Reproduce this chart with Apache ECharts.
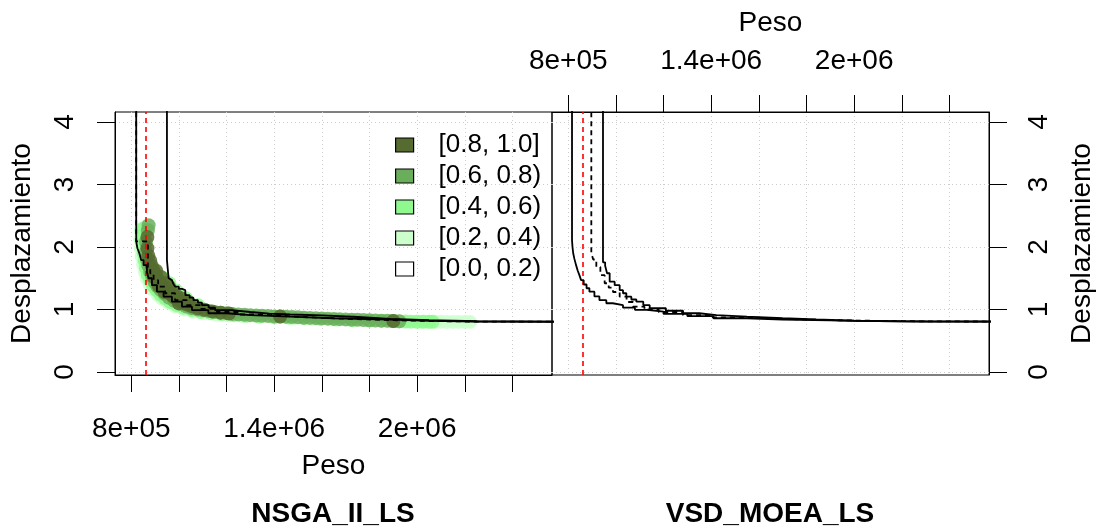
<!DOCTYPE html>
<html>
<head>
<meta charset="utf-8">
<script src="https://cdn.jsdelivr.net/npm/echarts@6/dist/echarts.min.js"></script>
<style>
  html, body { margin: 0; padding: 0; background: #fff; }
  #chart { width: 1102px; height: 531px; }
</style>
</head>
<body>
<div id="chart"></div>
<script>
// axis ticks and labels
const xTicks = [800000, 1000000, 1200000, 1400000, 1600000, 1800000, 2000000, 2200000, 2400000];
const xLabelValues = [800000, 1400000, 2000000];
const xLabelText = { 800000: '8e+05', 1400000: '1.4e+06', 2000000: '2e+06' };
const yTicks = [0, 1, 2, 3, 4];
const panelNames = ['NSGA_II_LS', 'VSD_MOEA_LS'];
const refPeso = 860000;

const levelNames = ['[0.8, 1.0]', '[0.6, 0.8)', '[0.4, 0.6)', '[0.2, 0.4)', '[0.0, 0.2)'];
const levelColors = ['#556b2f', '#6aae5c', '#8ff98f', '#ccffcc', '#ffffff'];

// attainment points, NSGA_II_LS
const pts08 = [[868000, 2.16], [868000, 1.98], [872000, 1.86], [880000, 1.78], [886000, 1.70], [893000, 1.63],
  [900000, 1.57], [908000, 1.51], [917000, 1.45], [927000, 1.40], [938000, 1.35], [950000, 1.30], [963000, 1.25],
  [978000, 1.20], [995000, 1.16], [1013000, 1.12], [1033000, 1.08], [1055000, 1.05], [1080000, 1.02],
  [1108000, 0.995], [1140000, 0.97], [1175000, 0.95], [1210000, 0.935], [895000, 1.52], [905000, 1.62],
  [915000, 1.38], [925000, 1.52], [940000, 1.28], [945000, 1.42], [960000, 1.36], [975000, 1.27],
  [990000, 1.22], [1010000, 1.18], [1000000, 1.10], [1040000, 1.12], [1425000, 0.888], [1900000, 0.816]];
const pts06 = [[873000, 2.35], [870000, 2.27], [862000, 2.08], [862000, 1.92], [866000, 1.80], [872000, 1.70],
  [880000, 1.60], [888000, 1.52], [898000, 1.44], [910000, 1.37], [924000, 1.31], [940000, 1.25], [958000, 1.19],
  [980000, 1.14], [1004000, 1.09], [1030000, 1.05], [1055000, 1.02], [1080000, 1.00], [1100000, 0.99],
  [1125000, 0.975], [1150000, 0.96], [1175000, 0.95], [1200000, 0.94], [1225000, 0.93], [1250000, 0.92],
  [1275000, 0.915], [1300000, 0.91], [1325000, 0.905], [1350000, 0.90], [1375000, 0.895], [1400000, 0.89],
  [1425000, 0.888], [1450000, 0.884], [1475000, 0.88], [1500000, 0.875], [1525000, 0.87], [1550000, 0.866],
  [1575000, 0.862], [1600000, 0.858], [1625000, 0.854], [1650000, 0.85], [1675000, 0.846], [1700000, 0.842],
  [1725000, 0.838], [1750000, 0.835], [1775000, 0.832], [1800000, 0.828], [1825000, 0.825], [1850000, 0.822],
  [1875000, 0.82], [1900000, 0.816], [1925000, 0.812]];
const pts04 = [[852000, 2.30], [848000, 2.18], [848000, 2.05], [852000, 1.90], [856000, 1.78], [862000, 1.66],
  [870000, 1.55], [880000, 1.46], [892000, 1.38], [906000, 1.31], [922000, 1.24], [942000, 1.18], [964000, 1.12],
  [990000, 1.07], [1020000, 1.03], [1054000, 0.99], [1092000, 0.96], [1134000, 0.94], [1180000, 0.925],
  [1230000, 0.91], [1284000, 0.90], [1340000, 0.89], [1400000, 0.88], [1462000, 0.87], [1526000, 0.86],
  [1592000, 0.85], [1660000, 0.84], [1730000, 0.83], [1800000, 0.822], [1850000, 0.818], [1900000, 0.812],
  [1925000, 0.81], [1950000, 0.808], [1975000, 0.806], [2000000, 0.805], [2025000, 0.804], [2050000, 0.803],
  [2065000, 0.803], [935000, 1.50], [960000, 1.42], [990000, 1.30], [1030000, 1.18], [1080000, 1.07]];
const pts02 = [[840000, 2.26], [838000, 2.12], [840000, 1.98], [844000, 1.85], [850000, 1.72], [858000, 1.60],
  [866000, 1.50], [878000, 1.40], [892000, 1.32], [910000, 1.24], [930000, 1.17], [955000, 1.11], [985000, 1.05],
  [1020000, 1.00], [1060000, 0.965], [1105000, 0.94], [1155000, 0.92], [1210000, 0.905], [1270000, 0.893],
  [1335000, 0.88], [1405000, 0.87], [1480000, 0.86], [1560000, 0.85], [1640000, 0.84], [1720000, 0.83],
  [1800000, 0.822], [1880000, 0.815], [1960000, 0.808], [2000000, 0.806], [2025000, 0.805], [2050000, 0.804],
  [2075000, 0.803], [2100000, 0.803], [2125000, 0.802], [2150000, 0.802], [2175000, 0.802], [2200000, 0.802],
  [2222000, 0.802]];
const pts00 = [];

// attainment surfaces (best / median / worst)
const nsgaOuter = [[821000, 4.3], [821000, 2.085], [826000, 1.98], [834000, 1.9], [842000, 1.79], [852000, 1.71],
  [866000, 1.60], [873000, 1.50], [887000, 1.39], [908000, 1.285], [936000, 1.205], [971000, 1.125],
  [1013000, 1.045], [1055000, 0.99], [1124000, 0.94], [1200000, 0.91], [1300000, 0.885], [1467000, 0.86],
  [1650000, 0.84], [1887000, 0.82], [2050000, 0.808], [2250000, 0.803], [2700000, 0.803]];
const nsgaMedian = [[821000, 4.3], [821000, 2.09], [870000, 1.66], [880000, 1.58], [894000, 1.47], [913000, 1.365],
  [942000, 1.26], [984000, 1.15], [1033000, 1.07], [1090000, 1.01], [1160000, 0.96], [1250000, 0.92],
  [1350000, 0.89], [1470000, 0.865], [1600000, 0.845], [1750000, 0.83], [1900000, 0.815], [2050000, 0.806],
  [2250000, 0.804], [2700000, 0.804]];
const nsgaInner = [[950000, 4.3], [950000, 1.79], [957000, 1.50], [964000, 1.47], [971000, 1.445], [978000, 1.40],
  [985000, 1.365], [1000000, 1.33], [1013000, 1.31], [1027000, 1.23], [1045000, 1.19], [1061000, 1.15],
  [1080000, 1.11], [1097000, 1.07], [1125000, 1.03], [1152000, 0.99], [1220000, 0.96], [1300000, 0.935],
  [1380000, 0.92], [1467000, 0.905], [1600000, 0.88], [1750000, 0.85], [1887000, 0.83], [2050000, 0.812],
  [2250000, 0.805], [2700000, 0.805]];
const vsdOuter = [[816000, 4.3], [816000, 2.11], [818000, 2.0], [821000, 1.9], [826000, 1.81], [833000, 1.71],
  [840000, 1.62], [847000, 1.55], [854000, 1.47], [865000, 1.40], [877000, 1.34], [889000, 1.285], [910000, 1.21],
  [931000, 1.15], [960000, 1.10], [987000, 1.07], [1030000, 1.03], [1080000, 0.995], [1130000, 0.965],
  [1200000, 0.93], [1300000, 0.895], [1410000, 0.86], [1550000, 0.84], [1700000, 0.825], [1900000, 0.815],
  [2100000, 0.808], [2300000, 0.805], [2700000, 0.805]];
const vsdMedian = [[897000, 4.3], [897000, 1.9], [905000, 1.80], [918000, 1.68], [935000, 1.55], [953000, 1.42],
  [970000, 1.35], [988000, 1.28], [1016000, 1.205], [1045000, 1.12], [1072000, 1.045], [1120000, 1.0],
  [1180000, 0.96], [1282000, 0.91], [1400000, 0.875], [1550000, 0.85], [1701000, 0.83], [1900000, 0.818],
  [2100000, 0.81], [2300000, 0.806], [2700000, 0.806]];
const vsdInner = [[946000, 4.3], [946000, 1.755], [955000, 1.70], [963000, 1.58], [974000, 1.445], [995000, 1.39],
  [1016000, 1.31], [1030000, 1.26], [1044000, 1.205], [1065000, 1.16], [1086000, 1.125], [1115000, 1.07],
  [1142000, 1.02], [1210000, 0.98], [1282000, 0.94], [1350000, 0.91], [1422000, 0.885], [1550000, 0.86],
  [1700000, 0.84], [1841000, 0.82], [2000000, 0.812], [2200000, 0.807], [2700000, 0.807]];

const FONT = 'Liberation Sans';
const chart = echarts.init(document.getElementById('chart'));

function xAxisFor(i) {
  return {
    type: 'value', gridIndex: i, position: i === 0 ? 'bottom' : 'top',
    min: 732000, max: 2566000,
    axisLine: { show: true, onZero: false, lineStyle: { color: '#000', width: 1 } },
    axisTick: { show: true, customValues: xTicks, length: 17, lineStyle: { color: '#000', width: 1 } },
    axisLabel: {
      customValues: xLabelValues, margin: i === 0 ? 40 : 37, fontSize: 28, fontFamily: FONT, color: '#000',
      formatter: v => xLabelText[v] || ''
    },
    splitLine: { show: true, lineStyle: { color: '#cccccc', type: [1, 3], width: 1 } },
    name: 'Peso', nameLocation: 'middle', nameGap: i === 0 ? 77 : 75,
    nameTextStyle: { fontSize: 28, fontFamily: FONT, color: '#000' }
  };
}

function yAxisFor(i) {
  return {
    type: 'value', gridIndex: i, position: i === 0 ? 'left' : 'right',
    min: -0.048, max: 4.16,
    axisLine: { show: true, onZero: false, lineStyle: { color: '#000', width: 1 } },
    axisTick: { show: true, customValues: yTicks, length: 18, lineStyle: { color: '#000', width: 1 } },
    axisLabel: { customValues: yTicks, rotate: 90, margin: 36, fontSize: 28, fontFamily: FONT, color: '#000' },
    splitLine: { show: true, lineStyle: { color: '#cccccc', type: [1, 3], width: 1 } },
    name: 'Desplazamiento', nameLocation: 'middle', nameGap: 79, nameRotate: 90,
    nameTextStyle: { fontSize: 28, fontFamily: FONT, color: '#000' }
  };
}

function surface(data, i, dashed) {
  return {
    type: 'line', step: 'end', xAxisIndex: i, yAxisIndex: i, data: data, symbol: 'none', z: 5,
    lineStyle: { color: '#000', width: 1.8, type: dashed ? [5, 4] : 'solid' }, silent: true
  };
}

function refLine(i) {
  return {
    type: 'line', xAxisIndex: i, yAxisIndex: i, data: [], z: 10, silent: true,
    markLine: {
      symbol: 'none', silent: true, label: { show: false },
      lineStyle: { color: '#ff0000', width: 1.6, type: [5, 4] },
      data: [{ xAxis: refPeso }]
    }
  };
}

const ptsByLevel = [pts08, pts06, pts04, pts02, pts00];
const pointSeries = ptsByLevel.map((d, k) => ({
  name: levelNames[k], type: 'scatter', xAxisIndex: 0, yAxisIndex: 0, data: d,
  symbol: 'circle', symbolSize: 14, z: 2 + (4 - k) * 0.1,
  itemStyle: { color: levelColors[k], opacity: 0.85 }
})).reverse();

chart.setOption({
  animation: false,
  backgroundColor: '#fff',
  title: panelNames.map((t, i) => ({
    text: t, left: i === 0 ? 333 : 770, top: 500, textAlign: 'center', padding: 0,
    textStyle: { fontSize: 28, fontWeight: 'bold', fontFamily: FONT, color: '#000' }
  })),
  legend: {
    orient: 'vertical', left: 395, top: 132, padding: 0, itemGap: 5,
    itemWidth: 18, itemHeight: 14, icon: 'rect', selectedMode: false,
    data: levelNames,
    itemStyle: { borderColor: '#000', borderWidth: 1.2, opacity: 1 },
    textStyle: { fontSize: 26, fontFamily: FONT, color: '#000', lineHeight: 26, padding: [0, 0, 0, 20] }
  },
  grid: [
    { left: 115, top: 112, width: 437, height: 263, show: true, borderColor: '#000', borderWidth: 1 },
    { left: 552, top: 112, width: 437, height: 263, show: true, borderColor: '#000', borderWidth: 1 }
  ],
  xAxis: [xAxisFor(0), xAxisFor(1)],
  yAxis: [yAxisFor(0), yAxisFor(1)],
  series: [
    ...pointSeries,
    surface(nsgaOuter, 0, false), surface(nsgaMedian, 0, true), surface(nsgaInner, 0, false),
    surface(vsdOuter, 1, false), surface(vsdMedian, 1, true), surface(vsdInner, 1, false),
    refLine(0), refLine(1)
  ]
});
</script>
</body>
</html>
